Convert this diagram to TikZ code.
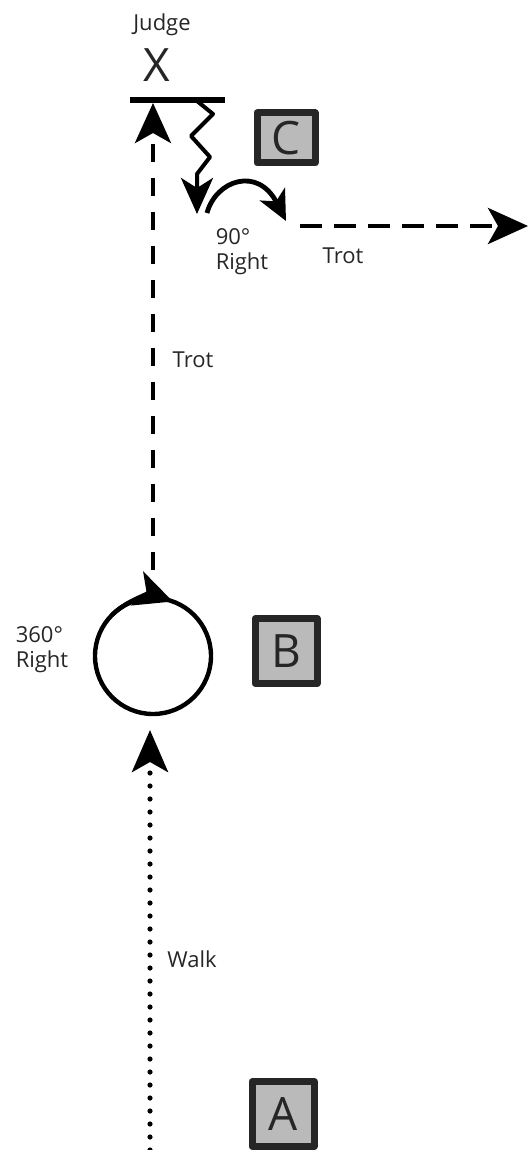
\documentclass[tikz,border=0pt]{standalone}
\usepackage{fontspec}
\setmainfont{Open Sans}
\usetikzlibrary{arrows.meta}
\tikzset{
  letterbox/.style={draw=black!85, line width=3.5pt, fill=black!27, inner sep=0pt,
    minimum width=31pt, minimum height=32.5pt, font=\fontsize{23}{23}\selectfont},
  trot/.style={line width=2.4pt, dash pattern=on 9pt off 8pt},
  walk/.style={line width=2.6pt, line cap=round, dash pattern=on 0pt off 6.5pt},
  bighead/.style={-{Stealth[length=20pt,width=18pt,inset=5pt]}},
  smallhead/.style={-{Stealth[length=15pt,width=14pt,inset=4pt]}},
}
\begin{document}
\begin{tikzpicture}[x=0.5pt, y=-0.5pt, line join=round, text=black!85,
    font=\fontsize{11}{12.5}\selectfont]
  \useasboundingbox (0,0) rectangle (529,1150);
  % letter boxes
  \node[letterbox] (A) at (283,1114) {A};
  \node[letterbox] (B) at (286,651) {B};
  \node[letterbox, minimum width=29pt, minimum height=25pt] (C) at (286,138) {C};
  % judge at the end
  \node (judge) at (162,25) {Judge};
  \node[font=\fontsize{23}{23}\selectfont] (X) at (157,65) {X};
  \coordinate (barL) at (130,100); \coordinate (barR) at (225,100);
  \draw[line width=3pt] (barL) -- (barR);
  % walk up to the circle
  \coordinate (walkstart) at (150,1150); \coordinate (walkend) at (150,730);
  \draw[walk, -{Stealth[length=21pt,width=18pt,inset=5pt]}] (walkstart) -- (walkend);
  \node (walk) at (192,959) {Walk};
  % 360 turn
  \node[circle, draw, line width=2.2pt, minimum size=58pt, inner sep=0pt, outer sep=0pt] (turn) at (153,656) {};
  \draw[line width=2.2pt, -{Stealth[length=19pt,width=18pt,inset=5pt]}]
    (turn.135) arc[start angle=135, end angle=70, radius=29pt];
  \node[align=left] (turnlbl) at (42,650) {360°\\Right};
  % trot to the judge
  \coordinate (trotstart) at (153,570); \coordinate (barfoot) at (153,103);
  \draw[trot, bighead] (trotstart) -- (barfoot);
  \node (trotup) at (193,360) {Trot};
  % halt, back up, 90 right
  \coordinate (zigtop) at (197,101); \coordinate (halt) at (197,214);
  \draw[line width=2pt, -{Stealth[length=18pt,width=16pt,inset=5pt]}]
    (zigtop) -- (213,114) -- (191,136) -- (210,157) -- (197,174) -- (halt);
  \coordinate (pivot) at (207,213); \coordinate (pivotend) at (286,221);
  \draw[line width=2.4pt, smallhead] (pivot) .. controls (216,180) and (258,166) .. (pivotend);
  \node[align=left] (rightlbl) at (242,252) {90°\\Right};
  % trot away
  \coordinate (trotgo) at (300,226); \coordinate (east) at (528,226);
  \draw[trot, dash pattern=on 11pt off 6pt, bighead] (trotgo) -- (east);
  \node (trotright) at (343,256) {Trot};
\end{tikzpicture}
\end{document}
